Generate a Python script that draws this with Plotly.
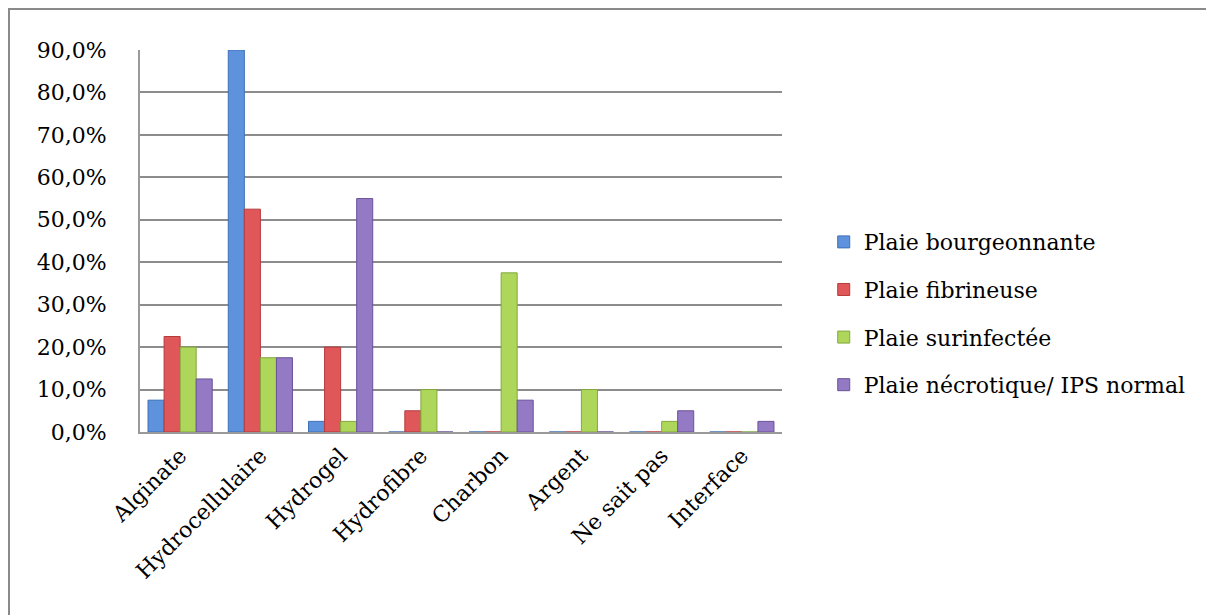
import plotly.graph_objects as go

categories = ["Alginate", "Hydrocellulaire", "Hydrogel", "Hydrofibre",
              "Charbon", "Argent", "Ne sait pas", "Interface"]
series_names = ["Plaie bourgeonnante", "Plaie fibrineuse",
                "Plaie surinfectée", "Plaie nécrotique/ IPS normal"]
bourgeonnante = [7.5, 90.0, 2.5, 0.0, 0.0, 0.0, 0.0, 0.0]
fibrineuse = [22.5, 52.5, 20.0, 5.0, 0.0, 0.0, 0.0, 0.0]
surinfectee = [20.0, 17.5, 2.5, 10.0, 37.5, 10.0, 2.5, 0.0]
necrotique = [12.5, 17.5, 55.0, 0.0, 7.5, 0.0, 5.0, 2.5]
y_ticks = [0, 10, 20, 30, 40, 50, 60, 70, 80, 90]
y_tick_labels = ["0,0%", "10,0%", "20,0%", "30,0%", "40,0%",
                 "50,0%", "60,0%", "70,0%", "80,0%", "90,0%"]

series_values = [bourgeonnante, fibrineuse, surinfectee, necrotique]
fill_colors = ["#5f92dc", "#e0575a", "#aed65a", "#9479c4"]
edge_colors = ["#3f6fb5", "#b53a3c", "#83a83e", "#6a5399"]

FONT = "DejaVu Serif"

fig = go.Figure()
for i, (name, vals) in enumerate(zip(series_names, series_values)):
    fig.add_trace(go.Bar(
        x=categories, y=vals, name=name,
        marker=dict(color=fill_colors[i], line=dict(color=edge_colors[i], width=1)),
        legendgroup=f"g{i}",
    ))

fig.update_layout(
    width=1214, height=615,
    paper_bgcolor="white", plot_bgcolor="white",
    margin=dict(l=132, r=440, t=42, b=191),
    barmode="group", bargap=0.2, bargroupgap=0.0,
    font=dict(family=FONT, size=22, color="#000000"),
    showlegend=True,
    legend=dict(
        x=1.065, y=0.31, xanchor="left", yanchor="middle",
        font=dict(family=FONT, size=22, color="#000000"),
        traceorder="grouped", tracegroupgap=16,
        itemwidth=30, bgcolor="rgba(0,0,0,0)",
    ),
    xaxis=dict(
        tickangle=-45, tickfont=dict(family=FONT, size=22),
        showline=True, linecolor="#9a9a9a", linewidth=2,
        showgrid=False, ticks="",
    ),
    yaxis=dict(
        range=[0, 90], tickvals=y_ticks, ticktext=y_tick_labels,
        tickfont=dict(family=FONT, size=22),
        showgrid=True, gridcolor="#8c8c8c", gridwidth=2,
        showline=True, linecolor="#9a9a9a", linewidth=2,
        zeroline=False, ticks="", ticklabelstandoff=27,
    ),
    shapes=[dict(type="rect", xref="paper", yref="paper",
                 x0=-131 / 642, x1=1150 / 642, y0=-400 / 382, y1=(382 + 41) / 382,
                 line=dict(color="#8a8a8a", width=2), fillcolor="rgba(0,0,0,0)",
                 layer="below")],
)

fig.write_html("out.html")
